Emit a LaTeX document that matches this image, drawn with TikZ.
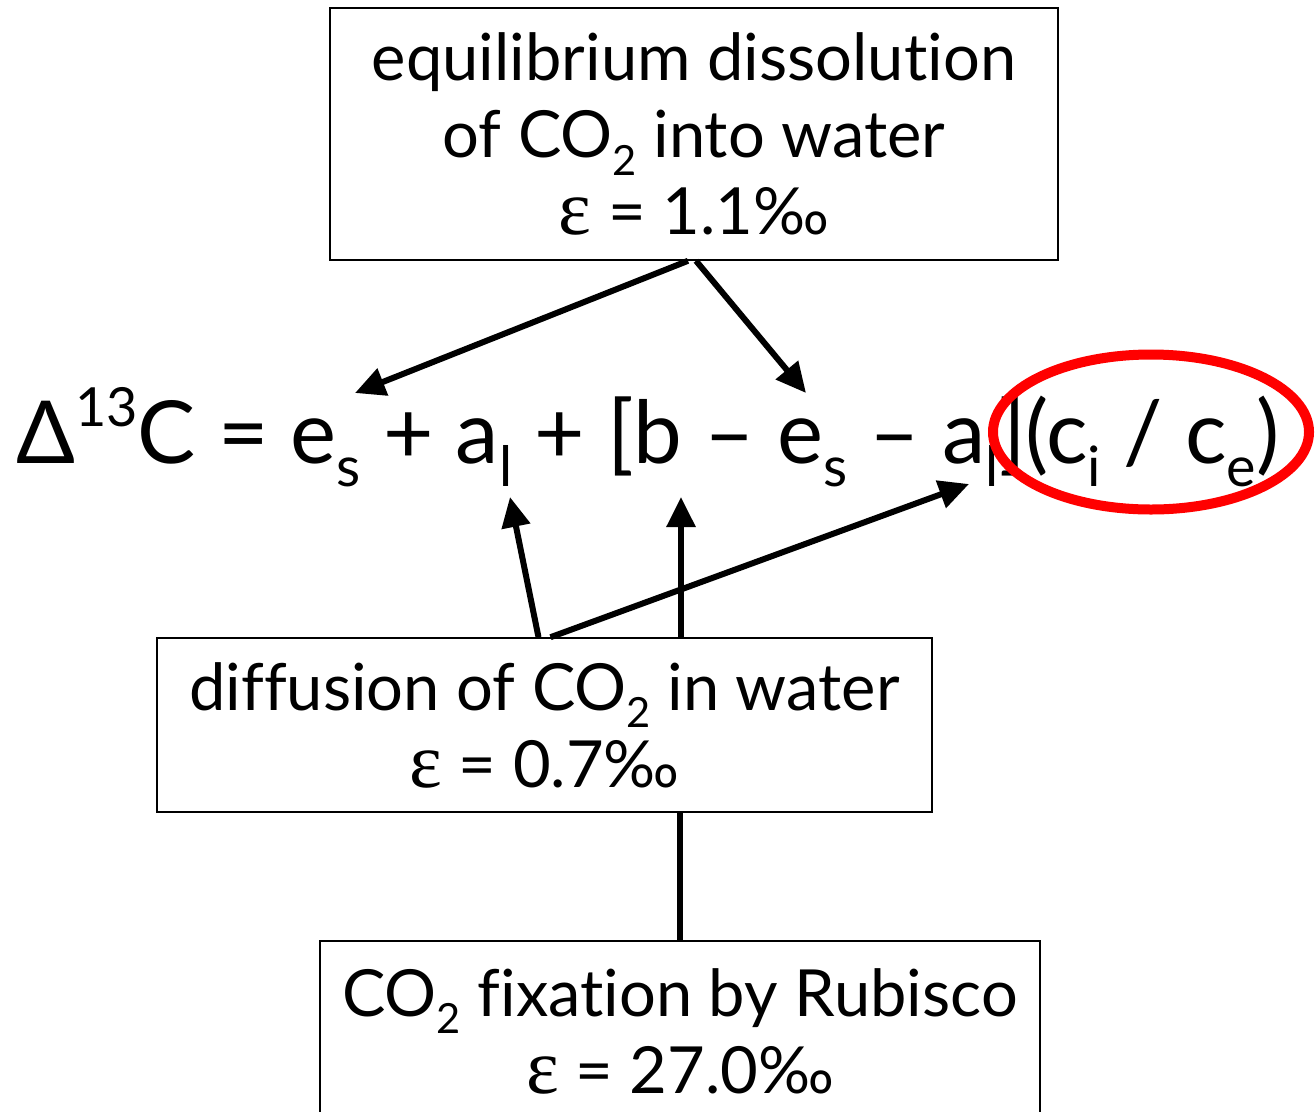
\documentclass[tikz,border=0pt]{standalone}
\usepackage{fontspec}
\setmainfont[Ligatures={NoCommon,NoRare}]{Lato}
\newfontfamily\epsfont[Scale=1.2]{Liberation Serif}
\usetikzlibrary{shapes.geometric,arrows.meta}

\newcommand{\dn}[1]{\raisebox{-.27em}{\scalebox{.64}{#1}}}
\newcommand{\up}[1]{\raisebox{.42em}{\scalebox{.62}{#1}}}
\newcommand{\eps}{{\epsfont ε}}

\begin{document}
\begin{tikzpicture}[x=1pt,y=-1pt,
    box/.style={draw, line width=1.6pt, align=center, inner sep=0pt,
      font=\fontsize{65}{77}\selectfont},
    arr/.style={line width=6pt, -{Triangle[length=30pt,width=28pt]}}]
  \useasboundingbox (0,0) rectangle (1316,1111);
  \clip (0,0) rectangle (1316,1111);

  % boxes
  \node[box, minimum width=728, minimum height=252] (dissol) at (694,134)
    {equilibrium dissolution\\ of CO\dn{2} into water\\ \eps{} = 1.1‰};
  \node[box, minimum width=775, minimum height=174] (diffus) at (544.5,725)
    {diffusion of CO\dn{2} in water\\ \eps{} = 0.7‰};
  \node[box, minimum width=720, minimum height=180] (rubisco) at (680,1031)
    {CO\dn{2} fixation by Rubisco\\ \eps{} = 27.0‰};

  % the equation
  \node[anchor=base west, inner sep=0pt, font=\fontsize{87}{87}\selectfont] (eqn) at (16,463)
    {Δ\up{13}C = e\dn{s} + a\dn{l} + [b – e\dn{s} – a\dn{l}](c\dn{i} / c\dn{e})};
  \node[ellipse, draw=red, line width=10pt, minimum width=316, minimum height=155] (ratio) at (1151,432) {};

  % arrow tips in the equation
  \coordinate (es1) at (355,393);
  \coordinate (es2) at (806,393);
  \coordinate (al1) at (510,497);
  \coordinate (bb) at (681,497);
  \coordinate (al2) at (969,484);

  \draw[arr] ([xshift=-6pt]dissol.south) -- (es1);
  \draw[arr] ([xshift=2pt]dissol.south) -- (es2);
  \draw[arr] ([xshift=-6pt]diffus.north) -- (al1);
  \draw[arr] ([xshift=6pt]diffus.north) -- (al2);
  \draw[arr] (bb |- diffus.north) -- (bb);
  \draw[line width=6pt] (rubisco.north) -- (rubisco.north |- diffus.south);
\end{tikzpicture}
\end{document}
